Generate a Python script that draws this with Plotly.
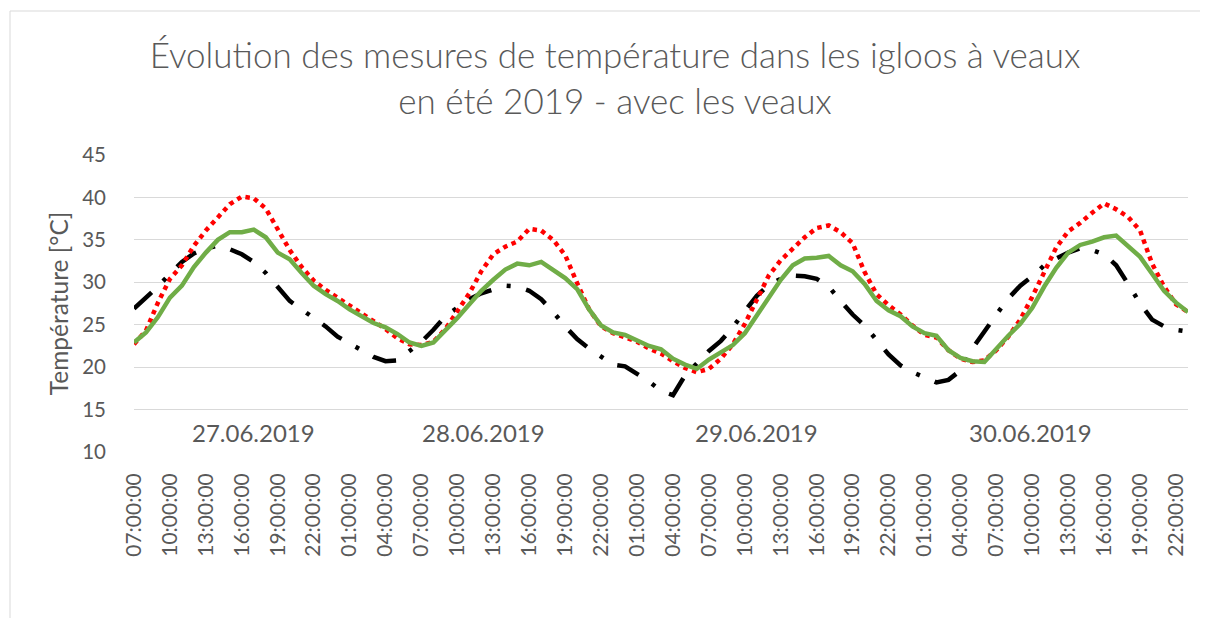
import plotly.graph_objects as go
import pandas as pd

start = "2019-06-27 07:00"
n_hours = 89
times = pd.date_range(start, periods=n_hours, freq="h")

# Series values (hourly, °C)
green = [22.9, 24.1, 25.9, 28.2, 29.6, 31.8, 33.5, 35.0, 35.9, 35.9, 36.2, 35.3, 33.5, 32.7, 31.1, 29.6, 28.6,
         27.8, 26.8, 26.0, 25.2, 24.7, 23.9, 22.9,
         22.5, 22.9, 24.3, 25.8, 27.4, 29.0, 30.3, 31.5, 32.2, 32.0, 32.4, 31.4, 30.5, 29.2, 26.8, 24.9,
         24.1, 23.8, 23.1, 22.5, 22.1, 21.0, 20.3, 19.8,
         20.9, 21.7, 22.6, 24.0, 26.1, 28.3, 30.3, 32.0, 32.8, 32.9, 33.1, 32.0, 31.3, 29.8, 27.8, 26.7,
         26.0, 24.8, 24.0, 23.7, 22.0, 21.1, 20.7, 20.6,
         22.2, 23.7, 25.1, 27.0, 29.5, 31.7, 33.5, 34.4, 34.8, 35.3, 35.5, 34.3, 33.0, 31.0, 29.0, 27.6, 26.5]

red = [22.7, 24.3, 27.6, 30.4, 32.0, 34.3, 36.1, 37.7, 39.2, 40.1, 39.9, 38.7, 36.2, 33.8, 31.8, 30.2, 29.1,
       28.2, 27.3, 26.3, 25.5, 24.5, 23.4, 22.7,
       22.6, 23.0, 24.5, 26.5, 28.7, 31.3, 33.3, 34.2, 34.8, 36.3, 36.1, 35.0, 33.2, 29.9, 26.8, 24.8,
       24.0, 23.5, 23.0, 22.2, 21.6, 20.7, 19.9, 19.4,
       19.8, 21.0, 22.7, 25.1, 28.0, 30.8, 32.6, 33.9, 35.3, 36.4, 36.7, 35.9, 34.6, 31.2, 28.6, 27.3,
       26.2, 24.9, 23.8, 23.5, 22.0, 21.0, 20.6, 20.8,
       22.0, 23.6, 25.6, 28.3, 31.2, 34.1, 36.0, 37.0, 38.2, 39.3, 38.6, 37.7, 36.1, 32.2, 29.5, 27.4, 26.5]

black = [26.9, 28.2, 29.5, 31.0, 32.4, 33.4, 34.0, 34.3, 33.9, 33.3, 32.4, 31.1, 29.4, 27.8, 26.8, 25.8, 24.8,
         23.6, 22.8, 22.0, 21.2, 20.7, 20.8, 21.9,
         23.0, 24.4, 26.0, 27.0, 28.0, 28.7, 29.2, 29.6, 29.5, 29.0, 28.0, 26.5, 24.8, 23.3, 22.2, 21.2,
         20.3, 20.1, 19.2, 18.3, 17.2, 16.7, 19.0, 20.4,
         21.9, 23.1, 24.7, 26.6, 28.4, 29.7, 30.4, 30.8, 30.7, 30.4, 29.5, 27.8, 26.2, 24.9, 23.3, 21.5,
         20.2, 19.4, 18.8, 18.2, 18.5, 19.6, 22.2, 24.3,
         26.2, 28.1, 29.6, 30.7, 32.0, 32.8, 33.5, 34.0, 33.8, 33.3, 32.0, 29.8, 27.5, 25.6, 24.8, 24.4, 24.2]

date_labels = ["27.06.2019", "28.06.2019", "29.06.2019", "30.06.2019"]
date_label_x = ["2019-06-27 17:00", "2019-06-28 12:10", "2019-06-29 11:00", "2019-06-30 09:50"]

title_text = "Évolution des mesures de température dans les igloos à veaux<br>en été 2019 - avec les veaux"
y_title = "Température [°C]"

FONT = "Lato"
GREY = "#595959"

# page body has an 8px margin: figure is drawn 8px right/down of the viewport origin
W, H = 1200, 610
L, R, T, B = 126, 20, 147, 166
pw = W - L - R
ph = H - T - B

fig = go.Figure()
fig.add_trace(go.Scatter(x=times, y=black, mode="lines", name="Extérieur",
                         line=dict(color="#000000", width=4.5, dash="24px,16px,4px,16px")))
fig.add_trace(go.Scatter(x=times, y=red, mode="lines", name="Igloo 1",
                         line=dict(color="#ff0000", width=4.5, dash="dot")))
fig.add_trace(go.Scatter(x=times, y=green, mode="lines", name="Igloo 2",
                         line=dict(color="#70ad47", width=4.5)))

for lab, xv in zip(date_labels, date_label_x):
    fig.add_annotation(x=xv, y=12.25, xref="x", yref="y", text=lab, showarrow=False,
                       font=dict(family=FONT, size=24, color=GREY), xanchor="center", yanchor="middle")

fig.add_shape(type="rect", xref="paper", yref="paper",
              x0=(2 - L) / pw, x1=(1230 - L) / pw,
              y0=-(640 - (H - B)) / ph, y1=1 + (T - 3) / ph,
              line=dict(color="#d9d9d9", width=1), fillcolor="rgba(0,0,0,0)", layer="below")

fig.update_layout(
    width=W, height=H,
    margin=dict(l=L, r=R, t=T, b=B),
    paper_bgcolor="white", plot_bgcolor="white",
    showlegend=False,
    title=dict(text=title_text, x=607 / W, xref="container", xanchor="center",
               y=1 - 60 / H, yref="container", yanchor="middle",
               font=dict(family=FONT, size=35, color=GREY, weight=300)),
    font=dict(family=FONT, color=GREY),
)
fig.update_xaxes(
    range=[times[0], times[-1]], tickformat="%H:%M:%S", dtick=3 * 3600 * 1000,
    tick0=times[0], tickangle=-90, showgrid=False, zeroline=False, showline=False,
    tickfont=dict(family=FONT, size=21, color=GREY), ticks="", ticklabelstandoff=16,
)
fig.update_yaxes(
    range=[10, 45], dtick=5, showgrid=True, gridcolor="#d9d9d9", gridwidth=1.3, zeroline=False,
    tickfont=dict(family=FONT, size=20.5, color=GREY), ticks="", ticklabelstandoff=27,
    title=dict(text=y_title, font=dict(family=FONT, size=24.5, color=GREY), standoff=6),
)
fig.write_html("out.html")
